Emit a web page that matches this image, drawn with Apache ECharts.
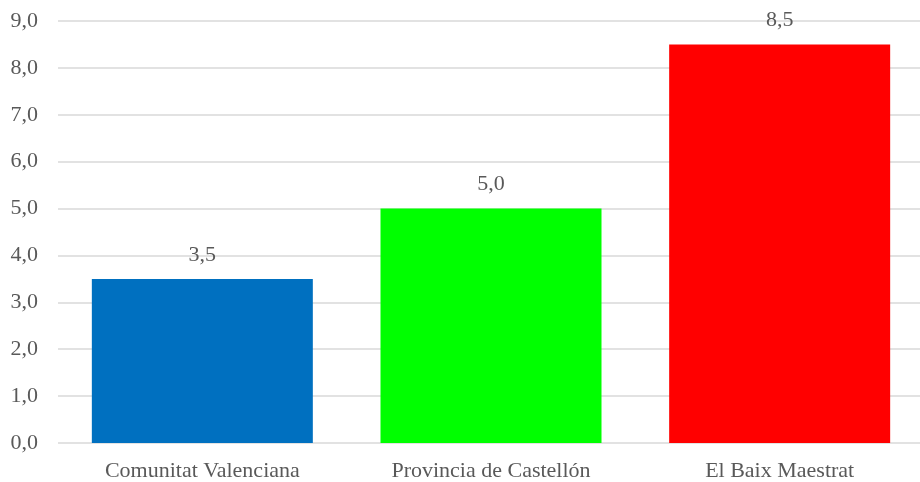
<!DOCTYPE html>
<html><head><meta charset="utf-8">
<script src="https://cdn.jsdelivr.net/npm/echarts@6/dist/echarts.min.js"></script>
<style>html,body{margin:0;padding:0;background:#fff}#c{width:920px;height:482px}</style>
</head><body><div id="c"></div>
<script>
const categories = ['Comunitat Valenciana', 'Provincia de Castellón', 'El Baix Maestrat'];
const values = [3.5, 5.0, 8.5];
const barColors = ['#0070C0', '#00FF00', '#FF0000'];
const yMin = 0, yMax = 9, yStep = 1;

const fmt = v => v.toFixed(1).replace('.', ',');
const FONT = '"Liberation Serif", "DejaVu Serif", serif';
const chart = echarts.init(document.getElementById('c'));
chart.setOption({
  animation: false,
  grid: { left: 58, width: 866, top: 21, bottom: 39, containLabel: false, outerBoundsMode: 'none' },
  xAxis: {
    type: 'category', data: categories,
    axisLine: { show: false }, axisTick: { show: false },
    axisLabel: { color: '#595959', fontFamily: FONT, fontSize: 22, margin: 17 }
  },
  yAxis: {
    type: 'value', min: yMin, max: yMax, interval: yStep,
    axisLine: { show: false }, axisTick: { show: false },
    splitLine: { lineStyle: { color: '#D9D9D9', width: 1.5 } },
    axisLabel: { color: '#595959', fontFamily: FONT, fontSize: 22, margin: 20, formatter: v => fmt(v) }
  },
  series: [{
    type: 'bar', barWidth: 221,
    data: values.map((v, i) => ({ value: v, itemStyle: { color: barColors[i] } })),
    label: { show: true, position: 'top', distance: 13, color: '#595959', fontFamily: FONT, fontSize: 22, formatter: p => fmt(p.value) }
  }]
});
</script></body></html>
